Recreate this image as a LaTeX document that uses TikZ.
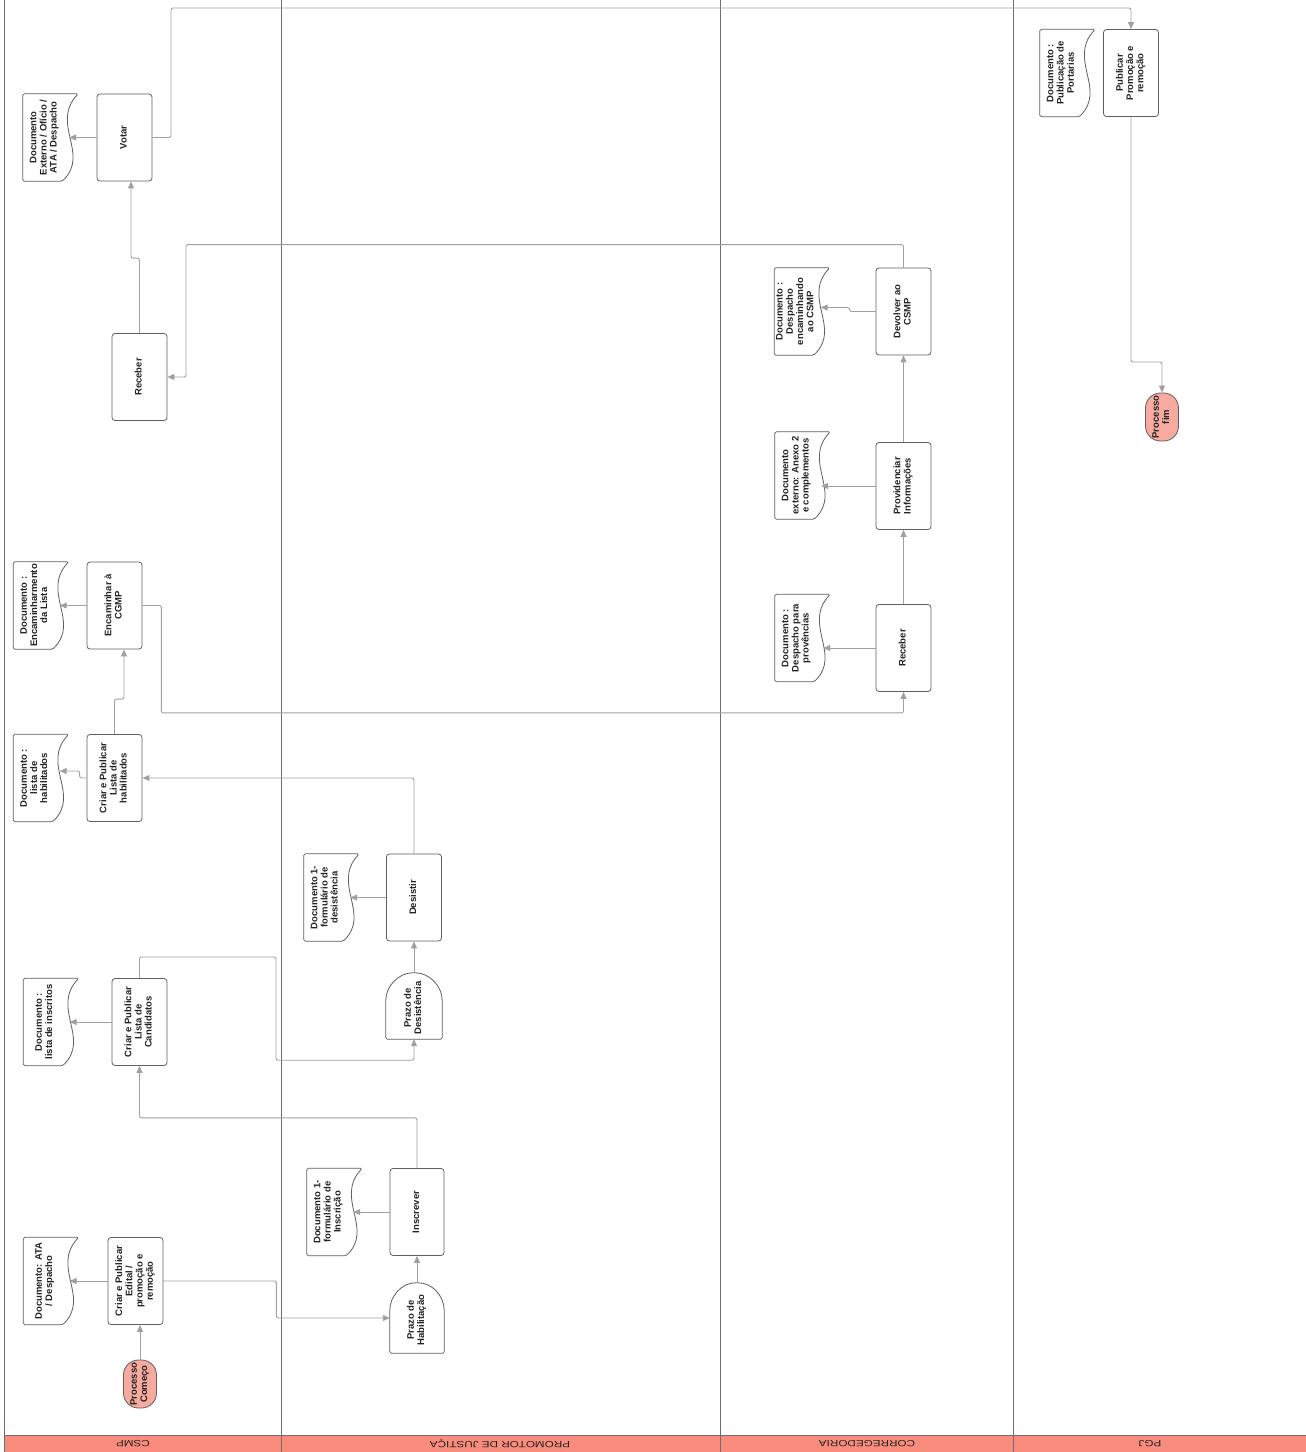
\documentclass[tikz,border=0pt]{standalone}
\usepackage{fontspec}
\setmainfont{Liberation Sans}
\usepackage{graphicx}
\usetikzlibrary{arrows.meta,calc}
\definecolor{hdrc}{RGB}{250,140,125}
\definecolor{termc}{RGB}{246,170,160}
\definecolor{lanec}{RGB}{110,110,110}
\definecolor{connc}{RGB}{160,160,160}
\definecolor{shpc}{RGB}{95,95,95}
\definecolor{txtc}{RGB}{35,35,35}
\newcommand\bxf{\fontsize{9.5}{10.2}\selectfont\bfseries}
\newcommand\hdf{\fontsize{9}{9}\selectfont}
\newcommand\rt[1]{\rotatebox{90}{\begin{tabular}{@{}c@{}}#1\end{tabular}}}
\newcommand\dt[1]{\rt{#1}\kern12pt}
\newcommand\docout[1]{\draw[shp,fill=white] (#1.north west) -- (#1.north east) .. controls ($(#1.north east)+(-28pt,-30pt)$) and ($(#1.north east)+(12pt,-60pt)$) .. ($(#1.south east)+(-16pt,0pt)$) -- (#1.south west) -- cycle;}
\newcommand\delayout[1]{\draw[shp] (#1.south west) -- ($(#1.north west)+(0,-29pt)$) .. controls ($(#1.north west)+(0,-13pt)$) and ($(#1.north)+(-15pt,0)$) .. (#1.north) .. controls ($(#1.north)+(15pt,0)$) and ($(#1.north east)+(0,-13pt)$) .. ($(#1.north east)+(0,-29pt)$) -- (#1.south east) -- cycle;}
\begin{document}
\begin{tikzpicture}[x=1pt,y=-1pt,
 box/.style={draw=shpc, line width=0.8pt, rounded corners=3pt, minimum width=55pt, minimum height=87pt, inner sep=0pt, font=\bxf, text=txtc, fill=white},
 docn/.style={minimum width=55pt, minimum height=87pt, inner sep=0pt, font=\bxf, text=txtc},
 shp/.style={draw=shpc, line width=0.8pt, rounded corners=1.5pt},
 termn/.style={draw=shpc, line width=0.8pt, fill=termc, rounded corners=15pt, minimum width=33pt, minimum height=48pt, inner sep=0pt, font=\bxf, text=txtc},
 delayn/.style={minimum width=54pt, minimum height=70pt, inner sep=0pt, font=\bxf, text=txtc},
 conn/.style={draw=connc, line width=0.9pt, -{Triangle[length=7pt,width=6pt]}, rounded corners=2pt},
 lane/.style={draw=lanec, line width=0.8pt},
 hdrtxt/.style={font=\hdf, text=txtc, rotate=180, inner sep=0pt}]
\useasboundingbox (0,0) rectangle (1306,1452);
\fill[white] (0,0) rectangle (1306,1452);
% header band
\fill[hdrc] (4,1435) rectangle (1306,1452);
\draw[lane] (4,1435) -- (1306,1435);
\foreach \lx in {4,281,720,1013} {\draw[lane] (\lx,0) -- (\lx,1452);}
\node[hdrtxt] (hcsmp) at (133,1444) {\scalebox{1.3}[1]{CSMP}};
\node[hdrtxt] (hpj) at (500,1444) {\scalebox{1.3}[1]{PROMOTOR DE JUSTIÇA}};
\node[hdrtxt] (hcor) at (867,1444) {\scalebox{1.3}[1]{CORREGEDORIA}};
\node[hdrtxt] (hpgj) at (1150,1444) {\scalebox{1.3}[1]{PGJ}};

% CSMP lane
\node[termn] (comeco) at (140,1384) {\rt{Processo\\Começo}};
\node[box] (edital) at (135.5,1281) {\rt{Criar e Publicar\\Edital /\\promoção e\\remoção}};
\node[docn] (docata) at (51,1281) {};
\docout{docata}
\node[docn] (docatat) at (51,1281) {\dt{Documento: ATA\\/ Despacho}};

\node[box] (cand) at (139.5,1022) {\rt{Criar e Publicar\\Lista de\\Candidatos}};
\node[docn] (docinscritos) at (51,1022) {};
\docout{docinscritos}
\node[docn] (docinscritost) at (51,1022) {\dt{Documento :\\lista de inscritos}};

\node[box] (hab) at (114.5,778) {\rt{Criar e Publicar\\Lista de\\habilitados}};
\node[docn] (dochab) at (41,778) {};
\docout{dochab}
\node[docn] (dochabt) at (41,778) {\dt{Documento :\\lista de\\habilitados}};

\node[box] (enc) at (114.5,605.5) {\rt{Encaminhar à\\CGMP}};
\node[docn] (docenc) at (41,605.5) {};
\docout{docenc}
\node[docn] (docenct) at (41,605.5) {\dt{Documento :\\Encaminharmento\\da Lista}};

\node[box] (recS) at (139.5,377) {\rt{Receber}};

\node[box] (votar) at (124.5,137.5) {\rt{Votar}};
\node[docn] (docvotar) at (50.5,137.5) {};
\docout{docvotar}
\node[docn] (docvotart) at (50.5,137.5) {\dt{Documento\\Externo / Ofício /\\ATA / Despacho}};

% Promotor lane
\node[delayn] (ph) at (417,1318) {};
\delayout{ph}
\node[delayn] (pht) at (417,1320) {\rt{Prazo de\\Habilitação}};
\node[box, minimum height=87pt, minimum width=54pt] (insc) at (417,1212) {\rt{Inscrever}};
\node[docn] (docinsc) at (334.5,1212) {};
\docout{docinsc}
\node[docn] (docinsct) at (334.5,1212) {\dt{Documento 1-\\formulário de\\Inscrição}};

\node[delayn, minimum width=56pt, minimum height=66pt] (pd) at (414,1006) {};
\delayout{pd}
\node[delayn, minimum width=56pt, minimum height=66pt] (pdt) at (414,1008) {\rt{Prazo de\\Desistência}};
\node[box] (desis) at (414,897.5) {\rt{Desistir}};
\node[docn] (docdesis) at (331.5,897.5) {};
\docout{docdesis}
\node[docn] (docdesist) at (331.5,897.5) {\dt{Documento 1-\\formulário de\\desistência}};

% Corregedoria lane
\node[box] (recC) at (903.5,648) {\rt{Receber}};
\node[docn] (docdesp) at (802.5,638) {};
\docout{docdesp}
\node[docn] (docdespt) at (802.5,638) {\dt{Documento :\\Despacho para\\provências}};

\node[box] (prov) at (903.5,486) {\rt{Providenciar\\Informações}};
\node[docn] (docanexo) at (802.5,475.5) {};
\docout{docanexo}
\node[docn] (docanexot) at (802.5,475.5) {\dt{Documento\\externo: Anexo 2\\e complementos}};

\node[box] (dev) at (903.5,311.5) {\rt{Devolver ao\\CSMP}};
\node[docn] (docdev) at (802,311.5) {};
\docout{docdev}
\node[docn] (docdevt) at (802,311.5) {\dt{Documento :\\Despacho\\encaminhando\\ao CSMP}};

% PGJ lane
\node[box] (pub) at (1131,73) {\rt{Publicar\\Promoção e\\remoção}};
\node[docn] (docpub) at (1067.5,73) {};
\docout{docpub}
\node[docn] (docpubt) at (1067.5,73) {\dt{Documento :\\Publicação de\\Portarias}};
\node[termn] (fim) at (1162,417) {\rt{Processo\\fim}};

% connectors
\draw[conn] (comeco.north) -- (comeco.north |- edital.south);
\draw[conn] (edital.west) -- ($(edital.west -| docata.east)+(-9pt,0)$);
\draw[conn] (edital.east) -- ($(edital.east)+(113pt,0)$) |- (ph.west);
\draw[conn] (ph.north) -- (insc.south);
\draw[conn] (insc.west) -- ($(insc.west -| docinsc.east)+(-9pt,0)$);
\draw[conn] (insc.north) |- ($(cand.south)+(0,-52pt)$) -- (cand.south);
\draw[conn] (cand.west) -- ($(cand.west -| docinscritos.east)+(-9pt,0)$);
\draw[conn] (cand.north) |- (276,957) |- ($(pd.south)+(0,-21pt)$) -- (pd.south);
\draw[conn] (pd.north) -- (desis.south);
\draw[conn] (desis.west) -- ($(desis.west -| docdesis.east)+(-9pt,0)$);
\draw[conn] (desis.north) |- (hab.east);
\draw[conn] (hab.west) -- ++(-7pt,0) -- ++(0,7pt) -- ($(hab.west -| dochab.east)+(-9pt,7pt)$);
\draw[conn] (hab.north) -- ++(0,35pt) -| ($(enc.south)+(9.5pt,0)$);
\draw[conn] (enc.west) -- ($(enc.west -| docenc.east)+(-9pt,0)$);
\draw[conn] (enc.east) -- ++(19pt,0) |- ($(recC.south)+(0,-21pt)$) -- (recC.south);
\draw[conn] (recC.west) -- ($(recC.west -| docdesp.east)+(-7pt,0)$);
\draw[conn] (recC.north) -- (prov.south);
\draw[conn] (prov.west) -- ($(prov.west -| docanexo.east)+(-9pt,0)$);
\draw[conn] (prov.north) -- (dev.south);
\draw[conn] (dev.west) -- ++(-26pt,0) -- ++(0,4pt) -- ($(dev.west -| docdev.east)+(-9pt,4pt)$);
\draw[conn] (dev.north) -- ++(0,23pt) -| (186,377) -- (recS.east);
\draw[conn] (recS.north) -- ++(0,75pt) -| ($(votar.south)+(6.5pt,0)$);
\draw[conn] (votar.west) -- ($(votar.west -| docvotar.east)+(-9pt,0)$);
\draw[conn] (votar.east) -| (171,8) -| (pub.north);
\draw[conn] (pub.south) |- (1162,362) -- (fim.north);
\end{tikzpicture}
\end{document}
